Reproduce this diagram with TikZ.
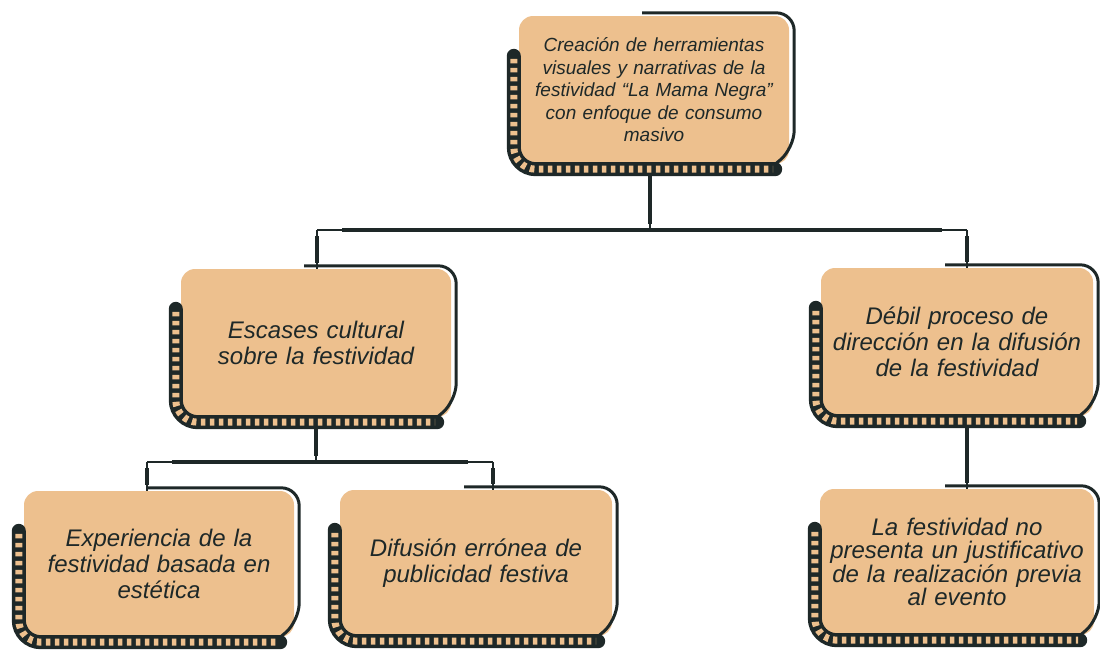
\documentclass[tikz,border=0pt]{standalone}
\usepackage{fontspec}
\setmainfont{Liberation Sans}
\usepackage{tikz}
\usetikzlibrary{calc}

\definecolor{arena}{RGB}{237,192,142}
\definecolor{tinta}{RGB}{30,40,40}

% frame of a box: outline on top/right, film strip on left/bottom
\newcommand\marco[1]{%
	\draw[borde] ($(#1.north)+(-12,-3)$) -- ($(#1.north east)+(5,-3)$) -- ($(#1.south east)+(5,-16)$) -- ($(#1.south east)+(-20,5)$);
	\draw[cinta] ($(#1.north west)+(-5,40)$) -- ($(#1.south west)+(-5,5)$) -- ($(#1.south east)+(-14,5)$);
	\draw[rayas] ($(#1.north west)+(-5,43)$) -- ($(#1.south west)+(-5,5)$) -- ($(#1.south east)+(-16,5)$);
}

\begin{document}
\begin{tikzpicture}[x=1pt, y=-1pt,
	caja/.style={rectangle, rounded corners=14pt, fill=arena, inner sep=0pt, align=center, text=tinta, font=\itshape\fontsize{24}{26}\selectfont, text width=262pt, minimum width=270pt, minimum height=148pt},
	cajasup/.style={caja, font=\itshape\fontsize{19}{22.5}\selectfont},
	borde/.style={draw=tinta, line width=3pt, rounded corners=18pt},
	cinta/.style={draw=tinta, line width=14pt, rounded corners=22pt, line cap=round},
	rayas/.style={draw=arena, line width=7pt, rounded corners=22pt, dash pattern=on 4.5pt off 4.5pt},
	tallo/.style={draw=tinta, line width=1.2pt, postaction={draw=tinta, line width=3.5pt, shorten <=6pt, shorten >=6pt}},
	rama/.style={draw=tinta, line width=1.5pt, postaction={draw=tinta, line width=4pt, shorten <=25pt, shorten >=25pt}}]
		
		\useasboundingbox (0,0) rectangle (1100,662);
		
		% Node
		
		\node[cajasup]
		(top) at (654,90) {Creación de herramientas\\visuales y narrativas de la\\festividad “La Mama Negra”\\con enfoque de consumo\\masivo};
		
		\node[caja]
		(m1) at (316,343) {Escases cultural\\sobre la festividad};
		\node[caja, minimum width=272pt]
		(m2) at (957,342) {Débil proceso de\\dirección en la difusión\\de la festividad};
		
		\node[caja, minimum height=146pt]
		(b1) at (159,564) {Experiencia de la\\festividad basada en\\estética};
		\node[caja, minimum width=272pt, minimum height=146pt]
		(b2) at (476,563) {Difusión errónea de\\publicidad festiva};
		\node[caja, minimum width=274pt, minimum height=146pt, font=\itshape\fontsize{24}{23.5}\selectfont]
		(b3) at (957,562) {La festividad no\\presenta un justificativo\\de la realización previa\\al evento};
		
		% Junctions
		
		\coordinate (jTop) at (650,230);
		\coordinate (jL1) at (317,230);
		\coordinate (jR1) at (967,230);
		\coordinate (jL2) at (316,462);
		\coordinate (jB1) at (147,462);
		\coordinate (jB2) at (493,462);
		
		% EDGE
		
		\draw[tallo] (jTop |- top.south) -- (jTop);
		\draw[rama] (jL1) -- (jR1);
		\draw[tallo] (jL1) -- (jL1 |- m1.north);
		\draw[tallo] (jR1) -- (jR1 |- m2.north);
		
		\draw[tallo] (m1.south) -- (jL2);
		\draw[rama] (jB1) -- (jB2);
		\draw[tallo] (jB1) -- (jB1 |- b1.north);
		\draw[tallo] (jB2) -- (jB2 |- b2.north);
		
		\draw[tallo] (jR1 |- m2.south) -- (jR1 |- b3.north);
		
		% Frames
		
		\marco{top}
		\marco{m1}
		\marco{m2}
		\marco{b1}
		\marco{b2}
		\marco{b3}
		
	\end{tikzpicture}
\end{document}
